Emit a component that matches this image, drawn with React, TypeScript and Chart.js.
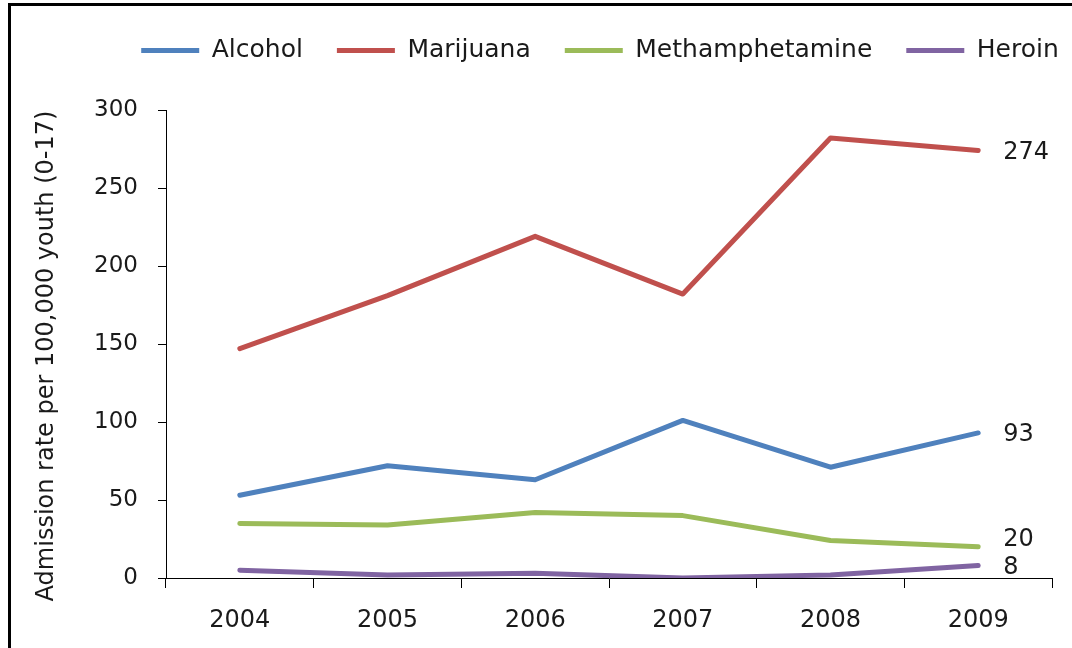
import React, { useEffect, useRef } from "react";
import { Chart, registerables } from "chart.js";

Chart.register(...registerables);

const years = ["2004", "2005", "2006", "2007", "2008", "2009"];
const alcohol = [53, 72, 63, 101, 71, 93];
const marijuana = [147, 181, 219, 182, 282, 274];
const methamphetamine = [35, 34, 42, 40, 24, 20];
const heroin = [5, 2, 3, 0, 2, 8];
const seriesNames = ["Alcohol", "Marijuana", "Methamphetamine", "Heroin"];
const yTitle = "Admission rate per 100,000 youth (0-17)";

const colors = ["#4F81BD", "#C0504D", "#9BBB59", "#8064A2"];
const endLabelDy = [2, 2, -7, 2];
const TEXT = "#1a1a1a";
const LEGEND_SHIFT = 74;
const TITLE_SHIFT = 12;

const endLabels = {
  id: "endLabels",
  afterDatasetsDraw(chart: any) {
    const ctx = chart.ctx;
    ctx.save();
    ctx.font = "24px 'DejaVu Sans'";
    ctx.fillStyle = TEXT;
    ctx.textAlign = "left";
    ctx.textBaseline = "middle";
    chart.data.datasets.forEach((ds: any, i: number) => {
      const meta = chart.getDatasetMeta(i);
      const pt = meta.data[meta.data.length - 1];
      const v = ds.data[ds.data.length - 1];
      ctx.fillText(String(v), pt.x + 25, pt.y + endLabelDy[i]);
    });
    ctx.restore();
  },
};

const layoutTweaks = {
  id: "layoutTweaks",
  beforeInit(chart: any) {
    const lg = chart.legend;
    const origFit = lg.fit;
    lg.fit = function () {
      origFit.call(lg);
      this.height += 37;
    };
    const origDraw = lg.draw;
    lg.draw = function () {
      const ctx = this.ctx;
      ctx.save();
      ctx.translate(LEGEND_SHIFT, 0);
      origDraw.call(lg);
      ctx.restore();
    };
  },
  beforeDraw(chart: any) {
    const ys = chart.scales.y;
    if (ys && !ys.__shifted) {
      const origTitle = ys.drawTitle;
      ys.drawTitle = function () {
        const ctx = this.ctx;
        ctx.save();
        ctx.translate(0, TITLE_SHIFT);
        origTitle.call(ys);
        ctx.restore();
      };
      ys.__shifted = true;
    }
  },
};

export default function App() {
  const ref = useRef<HTMLCanvasElement>(null);
  useEffect(() => {
    if (!ref.current) return;
    const data = [alcohol, marijuana, methamphetamine, heroin];
    const chart = new Chart(ref.current, {
      type: "line",
      data: {
        labels: years,
        datasets: data.map((d, i) => ({
          label: seriesNames[i],
          data: d,
          borderColor: colors[i],
          backgroundColor: colors[i],
          borderWidth: 5,
          borderCapStyle: "round",
          borderJoinStyle: "round",
          pointRadius: 0,
          pointStyle: "line",
          tension: 0,
        })),
      },
      options: {
        animation: false,
        responsive: false,
        layout: { padding: { left: 0, right: 20, top: 4, bottom: 0 } },
        plugins: {
          legend: {
            position: "top",
            labels: {
              usePointStyle: true,
              pointStyleWidth: 58,
              padding: 34,
              color: TEXT,
              font: { family: "'DejaVu Sans'", size: 25 },
            },
          },
          tooltip: { enabled: false },
        },
        scales: {
          x: {
            offset: true,
            grid: {
              offset: true,
              drawOnChartArea: false,
              drawTicks: true,
              tickLength: 10,
              color: "#000",
            },
            border: { display: true, color: "#000", width: 1 },
            ticks: {
              color: TEXT,
              padding: 18,
              font: { family: "'DejaVu Sans'", size: 24 },
            },
            afterFit(scale: any) {
              scale.height = 70;
            },
          },
          y: {
            min: 0,
            max: 300,
            ticks: {
              stepSize: 50,
              color: TEXT,
              padding: 20,
              font: { family: "'DejaVu Sans'", size: 23 },
            },
            grid: {
              drawOnChartArea: false,
              drawTicks: true,
              tickLength: 8,
              color: "#000",
            },
            border: { display: true, color: "#000", width: 1 },
            title: {
              display: true,
              text: yTitle,
              color: TEXT,
              padding: { top: 32, bottom: 0 },
              font: { family: "'DejaVu Sans'", size: 24 },
            },
            afterFit(scale: any) {
              scale.width = 166;
            },
          },
        },
      },
      plugins: [endLabels, layoutTweaks],
    } as any);
    return () => chart.destroy();
  }, []);

  return (
    <div style={{ position: "fixed", left: 0, top: 0, width: 1072, height: 648, background: "#fff", overflow: "hidden" }}>
      <div
        style={{
          position: "absolute",
          left: 8,
          top: 3,
          width: 1100,
          height: 700,
          borderLeft: "3px solid #000",
          borderTop: "3px solid #000",
        }}
      />
      <canvas ref={ref} width={1072} height={648} style={{ position: "absolute", left: 0, top: 0, width: 1072, height: 648 }} />
    </div>
  );
}
